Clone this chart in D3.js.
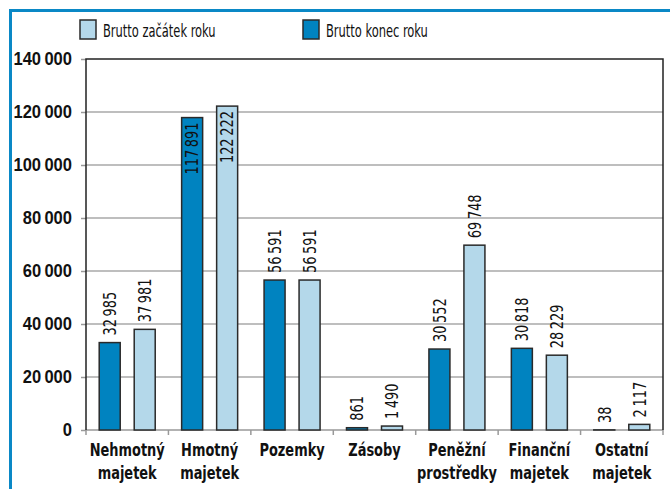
<!DOCTYPE html>
<html>
<head>
<meta charset="utf-8">
<script src="https://cdn.jsdelivr.net/npm/d3@7"></script>
<style>
  body { margin: 0; background: #fff; }
  svg { display: block; font-family: 'Liberation Sans Narrow', 'DejaVu Sans Condensed', 'Arial Narrow', sans-serif; }
</style>
</head>
<body>
<div id="chart"></div>
<script>
// # Data
const categories = [
  ['Nehmotný', 'majetek'],
  ['Hmotný', 'majetek'],
  ['Pozemky'],
  ['Zásoby'],
  ['Peněžní', 'prostředky'],
  ['Finanční', 'majetek'],
  ['Ostatní', 'majetek']
]
const konecRoku = [32985, 117891, 56591, 861, 30552, 30818, 38]
const zacatekRoku = [37981, 122222, 56591, 1490, 69748, 28229, 2117]
const yTicks = [0, 20000, 40000, 60000, 80000, 100000, 120000, 140000]
const seriesNames = ['Brutto konec roku', 'Brutto začátek roku']

// # Look
const width = 670
const height = 489
const darkBlue = '#0083c0'
const lightBlue = '#b4d8ea'
const frameBlue = '#0a88c6'
const margin = {left: 86, right: 7, top: 59, bottom: 59}
// # The original font is a condensed one, squeeze ours to match.
const squeeze = 0.8

const fmt = v => d3.format(',')(v).replace(/,/g, '\u2009')

const svg = d3.select('#chart')
  .append('svg')
  .attr('width', width)
  .attr('height', height)

// # Outer blue frame
svg.append('rect')
  .attr('x', 10.5).attr('y', 10.5)
  .attr('width', 700).attr('height', 520)
  .attr('fill', 'none')
  .attr('stroke', frameBlue)
  .attr('stroke-width', 3)

const x0 = d3.scaleBand()
  .domain(d3.range(categories.length))
  .range([margin.left, width - margin.right])

const x1 = d3.scaleBand()
  .domain([0, 1])
  .range([0, 56])
  .paddingInner(0.4)

const y = d3.scaleLinear()
  .domain([0, 140000])
  .range([430, margin.top])

// # Grid
svg.append('g')
  .selectAll('line')
  .data(yTicks.filter(t => t > 0 && t < 140000))
  .join('line')
  .attr('x1', margin.left).attr('x2', width - margin.right)
  .attr('y1', d => y(d)).attr('y2', d => y(d))
  .attr('stroke', '#a8a8a8')
  .attr('stroke-width', 1.5)

// # Y axis
const yAxis = svg.append('g')
  .attr('transform', `translate(${margin.left},0)`)
  .call(d3.axisLeft(y).tickValues(yTicks).tickFormat(fmt).tickSize(5).tickPadding(9))
yAxis.select('.domain').remove()
yAxis.selectAll('.tick line').attr('stroke', '#999').attr('stroke-width', 1.5)
yAxis.selectAll('.tick text')
  .attr('font-size', 18)
  .attr('font-weight', 'bold')
  .attr('fill', '#111')
  .attr('font-family', null)
  .attr('x', -14 / 0.92)
  .attr('transform', 'scale(0.92,1)')

// # X axis (ticks between categories)
const bottomY = y(0)
svg.append('line')
  .attr('x1', margin.left).attr('x2', width - margin.right)
  .attr('y1', bottomY).attr('y2', bottomY)
  .attr('stroke', '#999').attr('stroke-width', 1.5)
svg.append('g')
  .selectAll('line')
  .data(d3.range(categories.length + 1))
  .join('line')
  .attr('x1', i => margin.left + i * x0.bandwidth())
  .attr('x2', i => margin.left + i * x0.bandwidth())
  .attr('y1', bottomY).attr('y2', bottomY + 5)
  .attr('stroke', '#999').attr('stroke-width', 1.5)

// # Plot border (top, left, right)
svg.append('path')
  .attr('d', `M${margin.left},${bottomY}V${margin.top}H${width - margin.right}V${bottomY}`)
  .attr('fill', 'none')
  .attr('stroke', '#222')
  .attr('stroke-width', 1.5)

// # Bars
const series = [konecRoku, zacatekRoku]
const colors = [darkBlue, lightBlue]
const groups = svg.append('g')
  .selectAll('g')
  .data(categories.map((c, i) => i))
  .join('g')
  .attr('transform', i => `translate(${x0(i) + (x0.bandwidth() - 56) / 2},0)`)

groups.selectAll('rect')
  .data(i => series.map((s, k) => ({k, v: s[i]})))
  .join('rect')
  .attr('x', d => x1(d.k))
  .attr('width', x1.bandwidth())
  .attr('y', d => y(d.v))
  .attr('height', d => bottomY - y(d.v))
  .attr('fill', d => colors[d.k])
  .attr('stroke', '#2a2a2a')
  .attr('stroke-width', 1.5)

// # Value labels, rotated; inside the bar when it would leave the plot
groups.selectAll('text')
  .data(i => series.map((s, k) => ({k, v: s[i]})))
  .join('text')
  .attr('transform', d => {
    const cx = x1(d.k) + x1.bandwidth() / 2
    const off = d.v > 100000 ? -5 : 7
    return `translate(${cx},${y(d.v)}) rotate(-90) translate(${off},0) scale(${squeeze},1)`
  })
  .attr('dy', '0.35em')
  .attr('text-anchor', d => d.v > 100000 ? 'end' : 'start')
  .attr('font-size', 18)
  .attr('fill', '#111')
  .text(d => fmt(d.v))

// # Category labels
const catLabels = svg.append('g')
  .selectAll('text')
  .data(categories)
  .join('text')
  .attr('transform', (d, i) => `translate(${x0(i) + x0.bandwidth() / 2},456) scale(${squeeze},1)`)
  .attr('text-anchor', 'middle')
  .attr('font-size', 18)
  .attr('font-weight', 'bold')
  .attr('fill', '#111')
catLabels.selectAll('tspan')
  .data(d => d)
  .join('tspan')
  .attr('x', 0)
  .attr('dy', (d, j) => j === 0 ? 0 : 23)
  .text(d => d)

// # Legend: light first, then dark
const legendItems = [
  {name: seriesNames[1], color: lightBlue, x: 80},
  {name: seriesNames[0], color: darkBlue, x: 303}
]
const legend = svg.append('g')
  .selectAll('g')
  .data(legendItems)
  .join('g')
  .attr('transform', d => `translate(${d.x},20)`)
legend.append('rect')
  .attr('width', 16).attr('height', 19)
  .attr('fill', d => d.color)
  .attr('stroke', '#2a2a2a')
  .attr('stroke-width', 1.5)
legend.append('text')
  .attr('transform', 'translate(23,17) scale(0.75,1)')
  .attr('font-size', 17)
  .attr('fill', '#111')
  .text(d => d.name)
</script>
</body>
</html>
